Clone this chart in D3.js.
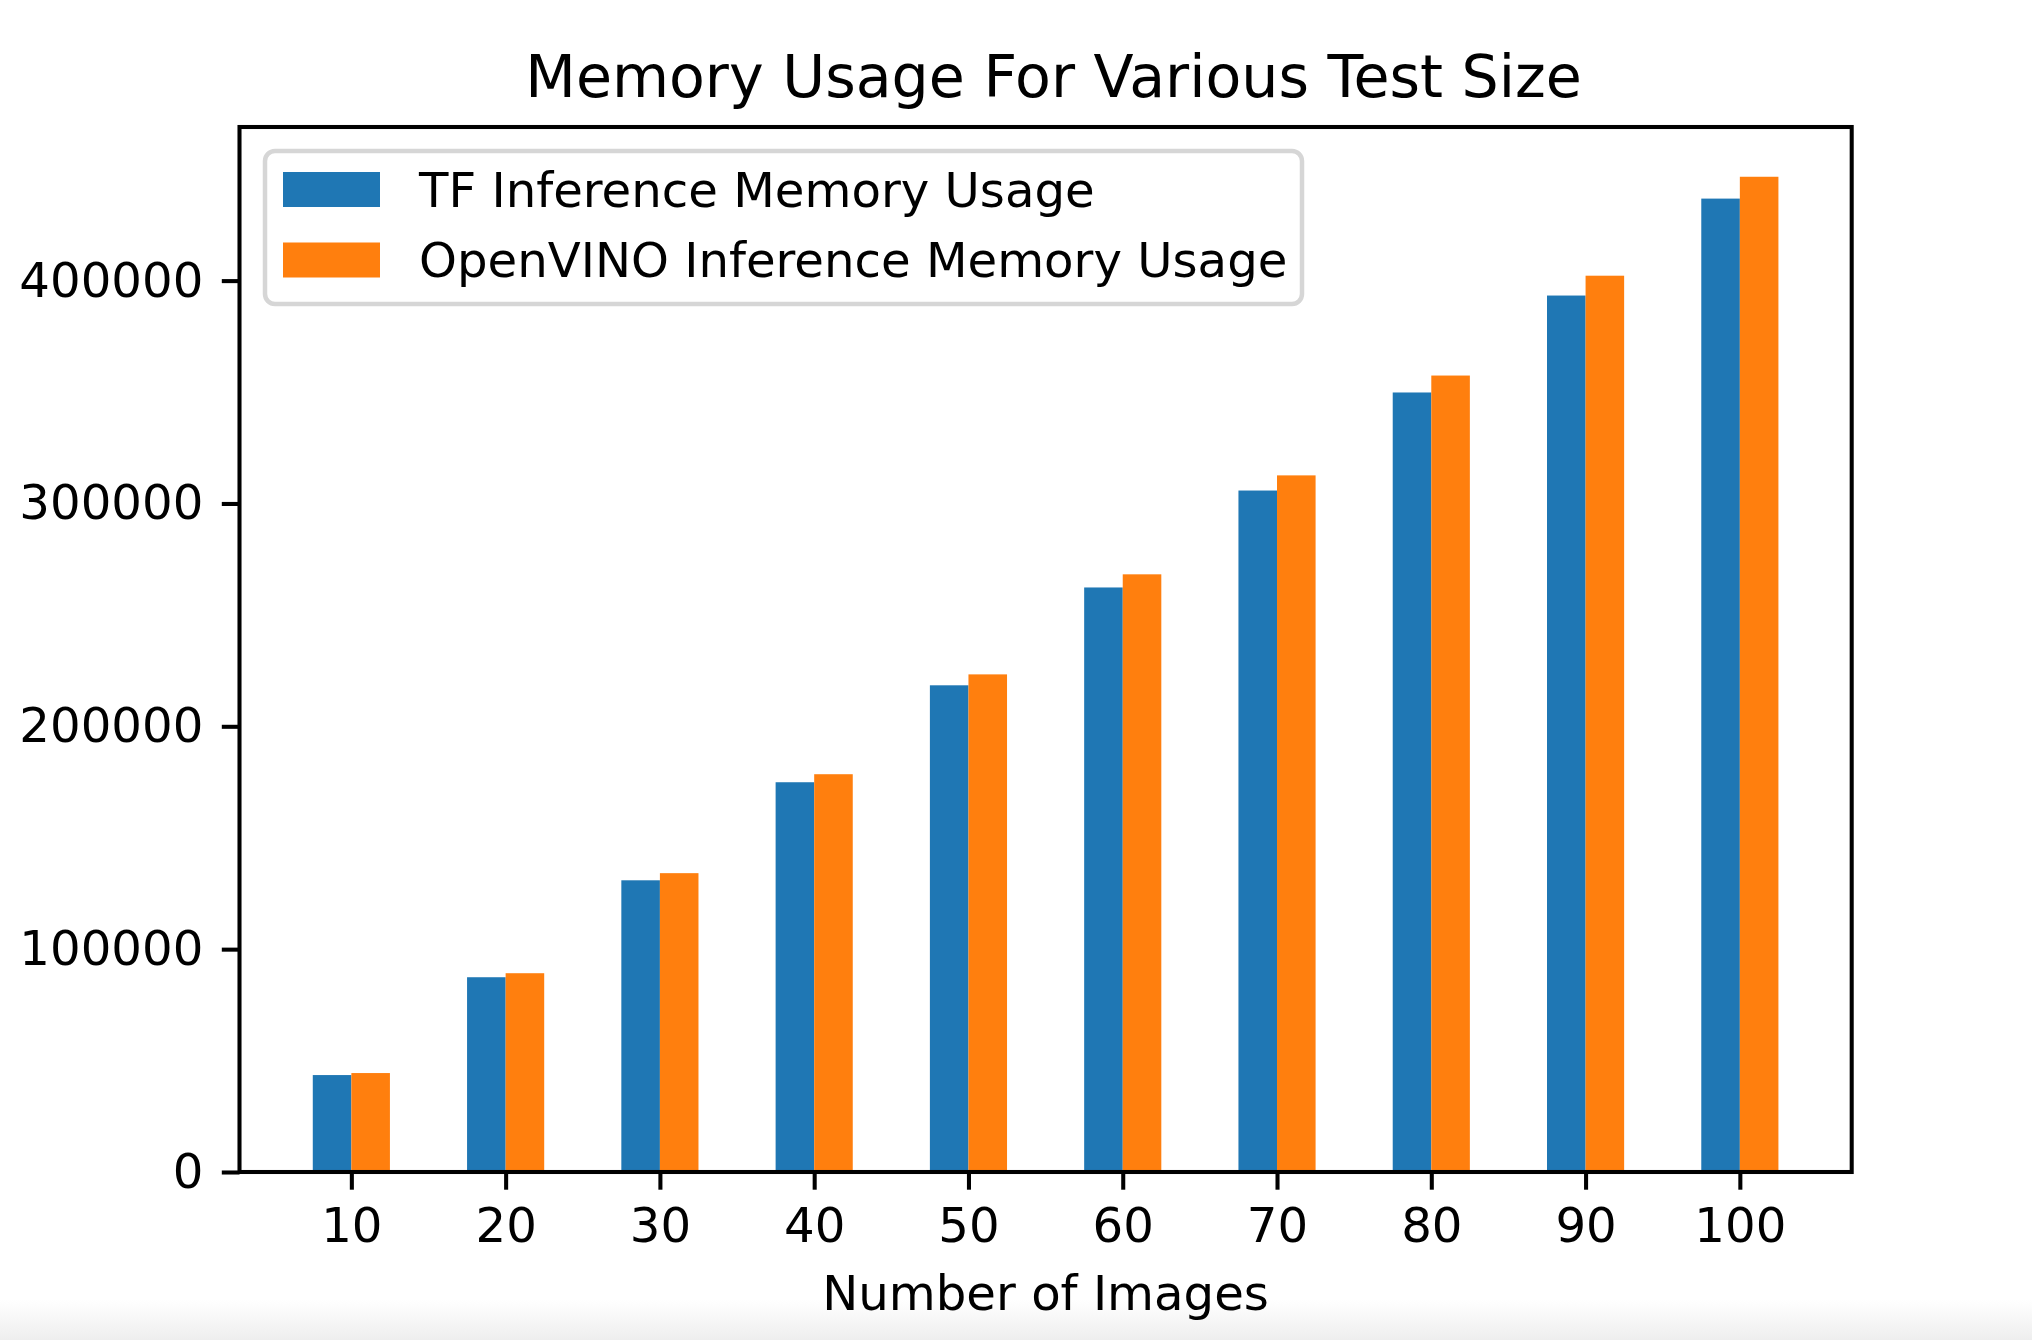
<!DOCTYPE html>
<html>
<head>
<meta charset="utf-8">
<script src="https://cdn.jsdelivr.net/npm/d3@7"></script>
<style>
  html, body { margin: 0; padding: 0; background: #ffffff; }
  svg { display: block; font-family: "DejaVu Sans", sans-serif; }
</style>
</head>
<body>
<svg id="chart" width="2032" height="1340"></svg>
<script>
// ---- data ----
const categories = [10, 20, 30, 40, 50, 60, 70, 80, 90, 100];
const tfMemory = [43500, 87400, 130900, 174900, 218400, 262300, 305800, 349800, 393300, 436800];
const openvinoMemory = [44400, 89200, 134100, 178500, 223300, 268200, 312600, 357400, 402200, 446600];
const yTicks = [0, 100000, 200000, 300000, 400000];
const seriesNames = ["TF Inference Memory Usage", "OpenVINO Inference Memory Usage"];
const seriesColors = ["#1f77b4", "#ff7f0e"];
const titleText = "Memory Usage For Various Test Size";
const xLabelText = "Number of Images";

(function () {
// ---- layout ----
const W = 2032, H = 1340;
const plotL = 239.5, plotR = 1851.7, plotT = 127, plotB = 1172;
const barW = 2.5;
const fs = 48.2, titleFs = 58.6;
const tickLen = 17.7, tickPad = 18.5, lw = 4.06;

const svg = d3.select("#chart");

// subtle bottom shade of the screenshot
const defs = svg.append("defs");
const grad = defs.append("linearGradient").attr("id", "shade").attr("x1", 0).attr("y1", 0).attr("x2", 0).attr("y2", 1);
grad.append("stop").attr("offset", "0%").attr("stop-color", "#ffffff");
grad.append("stop").attr("offset", "100%").attr("stop-color", "#eeeeee");
svg.append("rect").attr("x", 0).attr("y", 1300).attr("width", W).attr("height", 40).attr("fill", "url(#shade)");

const dataMin = d3.min(categories) - barW, dataMax = d3.max(categories) + barW;
const xm = (dataMax - dataMin) * 0.05;
const x = d3.scaleLinear().domain([dataMin - xm, dataMax + xm]).range([plotL, plotR]);
const yMax = d3.max(openvinoMemory.concat(tfMemory)) * 1.05;
const y = d3.scaleLinear().domain([0, yMax]).range([plotB, plotT]);

// bars
const g = svg.append("g");
[tfMemory, openvinoMemory].forEach((vals, si) => {
  g.selectAll(null).data(categories).enter().append("rect")
    .attr("x", (d) => si === 0 ? x(d - barW) : x(d))
    .attr("width", (d) => x(d + barW) - x(d))
    .attr("y", (d, i) => y(vals[i]))
    .attr("height", (d, i) => y(0) - y(vals[i]))
    .attr("fill", seriesColors[si]);
});

// axes
const xAxis = d3.axisBottom(x).tickValues(categories).tickFormat(d3.format("d"))
  .tickSize(tickLen).tickPadding(tickPad);
const gx = svg.append("g").attr("transform", `translate(0,${plotB})`).call(xAxis);
const yAxis = d3.axisLeft(y).tickValues(yTicks).tickFormat(d3.format("d"))
  .tickSize(tickLen).tickPadding(tickPad);
const gy = svg.append("g").attr("transform", `translate(${plotL},0)`).call(yAxis);
[gx, gy].forEach(a => {
  a.select(".domain").remove();
  a.selectAll(".tick line").attr("stroke", "#000").attr("stroke-width", lw);
  a.selectAll(".tick text").attr("fill", "#000").style("font-size", fs + "px")
    .style("font-family", "'DejaVu Sans', sans-serif");
});

// frame
svg.append("rect").attr("x", plotL).attr("y", plotT).attr("width", plotR - plotL).attr("height", plotB - plotT)
  .attr("fill", "none").attr("stroke", "#000").attr("stroke-width", lw);

// title
svg.append("text").attr("x", (plotL + plotR) / 2 + 8).attr("y", 97).attr("text-anchor", "middle")
  .style("font-size", titleFs + "px").attr("fill", "#000").text(titleText);

// x label
svg.append("text").attr("x", (plotL + plotR) / 2).attr("y", 1310).attr("text-anchor", "middle")
  .style("font-size", fs + "px").attr("fill", "#000").text(xLabelText);

// legend
const lg = svg.append("g");
lg.append("rect").attr("x", 265).attr("y", 151).attr("width", 1037).attr("height", 153)
  .attr("rx", 10).attr("ry", 10)
  .attr("fill", "rgba(255,255,255,0.8)").attr("stroke", "#d6d6d6").attr("stroke-width", 4.5);
seriesNames.forEach((name, i) => {
  const cy = 189.5 + i * 70.5;
  lg.append("rect").attr("x", 283).attr("y", cy - 17.5).attr("width", 97).attr("height", 35)
    .attr("fill", seriesColors[i]);
  lg.append("text").attr("x", 419).attr("y", cy + 17).style("font-size", fs + "px")
    .attr("fill", "#000").text(name);
});
})();
</script>
</body>
</html>
